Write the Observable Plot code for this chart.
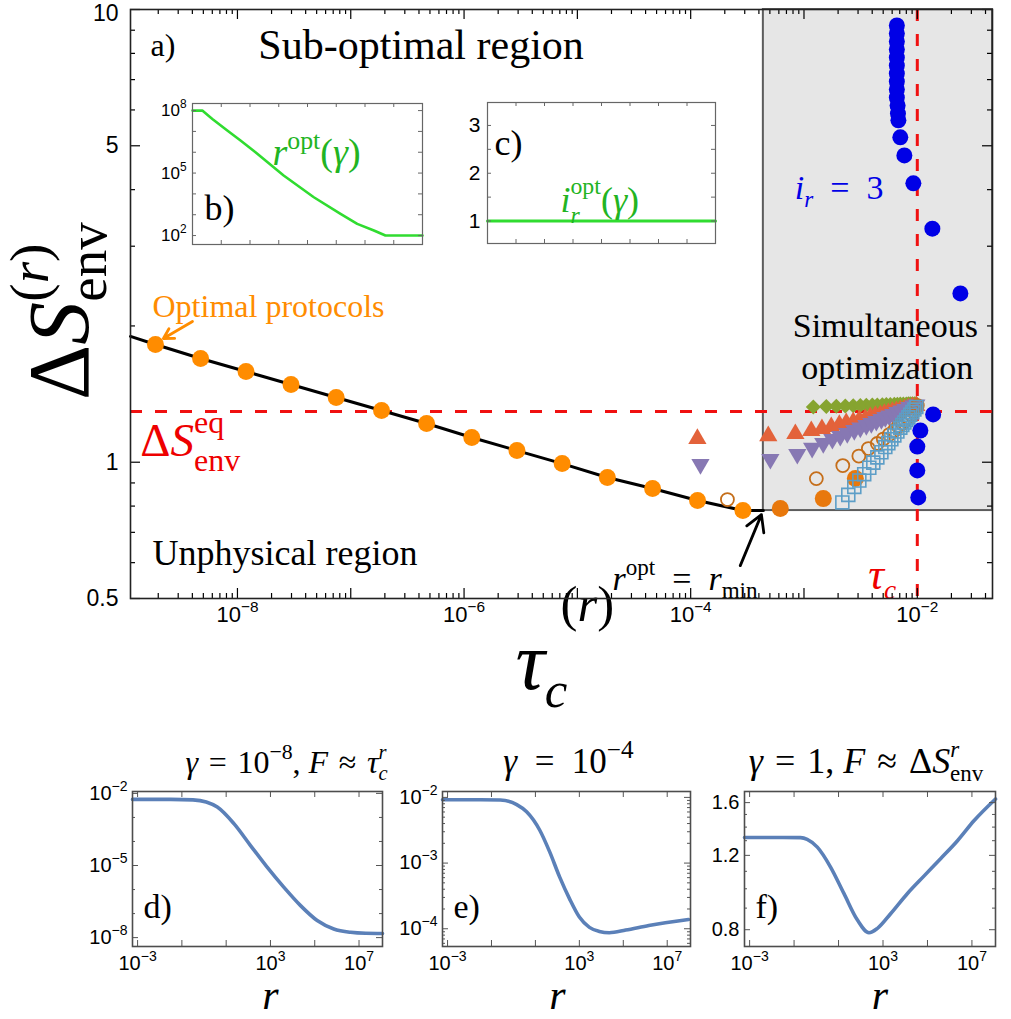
<!DOCTYPE html>
<html><head><meta charset="utf-8">
<script src="https://cdn.jsdelivr.net/npm/d3@7"></script>
<script src="https://cdn.jsdelivr.net/npm/@observablehq/plot@0.6"></script>
<style>
html,body{margin:0;padding:0;background:#fff;}
#root{position:relative;width:1011px;height:1019px;overflow:hidden;background:#fff;}
#root svg{position:absolute;overflow:visible;}
</style></head><body><div id="root"></div>
<script>
// ================= DATA =================
// main panel a) : tick labels
const xTickLabels = [1e-8, 1e-6, 1e-4, 1e-2];
const yTickLabels = [0.5, 1, 5, 10];
const xDomain = [1.138e-9, 0.0461];
const yDomain = [0.5, 10];
// optimal protocols (orange dots) and the black curve
const optTau = [1.89e-9, 4.73e-9, 1.19e-8, 2.97e-8, 7.44e-8, 1.87e-7, 4.67e-7, 1.17e-6, 2.93e-6, 7.34e-6, 1.84e-5, 4.61e-5, 1.15e-4, 2.89e-4];
const optDS  = [1.820, 1.695, 1.586, 1.485, 1.390, 1.301, 1.218, 1.134, 1.061, 0.993, 0.925, 0.875, 0.823, 0.782];
const lineTau = [1.138e-9, 1.89e-9, 4.73e-9, 1.19e-8, 2.97e-8, 7.44e-8, 1.87e-7, 4.67e-7, 1.17e-6, 2.93e-6, 7.34e-6, 1.84e-5, 4.61e-5, 1.15e-4, 2.89e-4, 4.38e-4];
const lineDS  = [1.896, 1.820, 1.695, 1.586, 1.485, 1.390, 1.301, 1.218, 1.134, 1.061, 0.993, 0.925, 0.875, 0.823, 0.782, 0.782];
// simultaneous optimization region, reference lines
const regionTau = [4.38e-4, 0.0461];
const regionDS = [0.782, 10];
const dsEq = 1.294;
const tauC = 0.01;
// other series
const grayOptTau = [6.18e-4, 1.48e-3, 2.84e-3];
const grayOptDS  = [0.790, 0.831, 0.920];
const circTau = [2.11e-4, 1.285e-3, 2.20e-3, 3.05e-3, 3.70e-3, 4.44e-3, 5.01e-3, 5.66e-3, 6.27e-3, 6.81e-3, 7.38e-3, 7.83e-3, 8.34e-3, 8.85e-3, 9.23e-3, 9.62e-3, 1.0e-2];
const circDS  = [0.827, 0.920, 0.983, 1.032, 1.072, 1.100, 1.125, 1.151, 1.175, 1.199, 1.218, 1.236, 1.255, 1.275, 1.294, 1.314, 1.334];
const triUpTau = [1.146e-4, 4.84e-4, 8.39e-4, 1.16e-3, 1.44e-3, 1.74e-3, 2.05e-3, 2.36e-3, 2.72e-3, 3.08e-3, 3.48e-3, 3.85e-3, 4.27e-3, 4.72e-3, 5.12e-3, 5.55e-3, 6.03e-3, 6.53e-3, 7.08e-3, 7.69e-3, 8.34e-3, 9.04e-3, 9.80e-3];
const triUpDS  = [1.134, 1.151, 1.163, 1.181, 1.193, 1.205, 1.218, 1.230, 1.236, 1.249, 1.255, 1.268, 1.275, 1.281, 1.288, 1.294, 1.301, 1.307, 1.314, 1.320, 1.327, 1.334, 1.341];
const triDnTau = [1.22e-4, 5.05e-4, 8.73e-4, 1.18e-3, 1.48e-3, 1.78e-3, 2.09e-3, 2.41e-3, 2.78e-3, 3.14e-3, 3.55e-3, 3.93e-3, 4.35e-3, 4.82e-3, 5.22e-3, 5.66e-3, 6.14e-3, 6.67e-3, 7.23e-3, 7.83e-3, 8.50e-3, 9.23e-3, 9.80e-3];
const triDnDS  = [0.983, 1.009, 1.035, 1.068, 1.094, 1.117, 1.134, 1.151, 1.169, 1.183, 1.199, 1.211, 1.224, 1.236, 1.249, 1.258, 1.268, 1.281, 1.290, 1.301, 1.314, 1.323, 1.331];
const diaTau = [1.209e-3, 1.574e-3, 1.928e-3, 2.317e-3, 2.72e-3, 3.14e-3, 3.548e-3, 4.01e-3, 4.44e-3, 4.91e-3, 5.33e-3, 5.78e-3, 6.27e-3, 6.67e-3, 7.08e-3, 7.53e-3, 8.00e-3, 8.34e-3, 8.67e-3, 9.04e-3, 9.42e-3, 9.80e-3];
const diaDS  = [1.324, 1.327, 1.329, 1.331, 1.333, 1.334, 1.336, 1.337, 1.338, 1.339, 1.341, 1.341, 1.343, 1.343, 1.344, 1.345, 1.345, 1.346, 1.346, 1.346, 1.347, 1.348];
const sqTau = [2.18e-3, 2.46e-3, 2.78e-3, 3.08e-3, 3.40e-3, 3.77e-3, 4.09e-3, 4.44e-3, 4.82e-3, 5.22e-3, 5.55e-3, 5.90e-3, 6.27e-3, 6.67e-3, 7.08e-3, 7.38e-3, 7.69e-3, 8.00e-3, 8.34e-3, 8.67e-3, 9.04e-3, 9.42e-3, 9.80e-3];
const sqDS  = [0.815, 0.847, 0.882, 0.911, 0.941, 0.972, 0.998, 1.025, 1.052, 1.080, 1.102, 1.124, 1.146, 1.169, 1.192, 1.208, 1.224, 1.240, 1.256, 1.273, 1.290, 1.307, 1.324];
const blueTau = [6.60e-3, 6.60e-3, 6.60e-3, 6.60e-3, 6.60e-3, 6.60e-3, 6.60e-3, 6.60e-3, 6.60e-3, 6.60e-3, 6.70e-3, 6.75e-3, 6.81e-3, 7.08e-3, 7.69e-3, 9.23e-3, 1.358e-2, 2.40e-2, 1.38e-2, 1.064e-2, 1.0e-2, 1.0e-2, 1.02e-2];
const blueDS  = [9.22, 8.85, 8.50, 8.16, 7.83, 7.52, 7.22, 6.93, 6.66, 6.39, 6.14, 5.89, 5.69, 5.22, 4.76, 4.13, 3.28, 2.36, 1.275, 1.175, 1.083, 0.959, 0.836];
// inset b) r_opt(gamma), inset c) i_r_opt(gamma)
const gammaB = [1e-8, 2.19e-8, 4.9e-8, 1.62e-7, 4.68e-7, 1.55e-6, 1.48e-5, 1.66e-4, 1.41e-3, 5.37e-3, 2.04e-2, 5.13e-2, 1];
const rOptB  = [1e8, 1e8, 3.98e7, 1.10e7, 3.63e6, 1e6, 7.59e4, 6.92e3, 1.10e3, 3.63e2, 1.74e2, 1e2, 1e2];
const bTickLabels = [1e2, 1e5, 1e8];
const gammaC = [1e-8, 1];
const iOptC  = [1, 1];
const cTickLabels = [1, 2, 3];
// bottom panels d), e), f)
const bottomXLabels = [1e-3, 1e3, 1e7];
const dR = [5.89e-4, 0.0316, 0.316, 1.26, 3.98, 22.4, 126, 708, 3.98e3, 2.29e4, 1.29e5, 7.24e5, 4.17e6, 2.0e7, 1.15e8];
const dF = [5.62e-3, 5.62e-3, 5.37e-3, 4.37e-3, 2.69e-3, 5.50e-4, 6.76e-5, 8.51e-6, 1.26e-6, 2.14e-7, 5.13e-8, 2.29e-8, 1.66e-8, 1.51e-8, 1.48e-8];
const dYLabels = [1e-2, 1e-5, 1e-8];
const eR = [5.89e-4, 0.0316, 0.251, 1.41, 3.98, 15.8, 44.7, 126, 355, 1e3, 2.88e3, 8.13e3, 2.29e4, 1.29e5, 1.45e6, 9.33e7];
const eF = [9.23e-3, 9.23e-3, 9.12e-3, 7.76e-3, 6.03e-3, 3.16e-3, 1.48e-3, 6.17e-4, 2.88e-4, 1.51e-4, 1.05e-4, 9.12e-5, 8.71e-5, 9.55e-5, 1.12e-4, 1.38e-4];
const eYLabels = [1e-2, 1e-3, 1e-4];
const fR = [5.89e-4, 0.0316, 0.195, 0.389, 1.11, 4.37, 17.4, 70.8, 234, 562, 2.24e3, 1.26e4, 7.08e4, 3.98e5, 2.24e6, 1.26e7, 1.15e8];
const fV = [1.323, 1.323, 1.322, 1.31, 1.255, 1.126, 0.975, 0.843, 0.787, 0.806, 0.874, 0.975, 1.073, 1.18, 1.30, 1.451, 1.632];
const fYLabels = [0.8, 1.2, 1.6];

// ================= STYLE =================
const SANS = "'Liberation Sans', Arial, sans-serif";
const SERIF = "'Liberation Serif', 'Times New Roman', serif";
const C = {orange: "#ff8c00", orange2: "#e8780c", circ: "#c56e1a", triUp: "#e3623a", triDn: "#8778b3",
  dia: "#86a430", sq: "#5d9ec7", blue: "#0000e6", red: "#f01010", green: "#30dc30", greenText: "#22b422", curve: "#5b80b8"};

const svgNS = "http://www.w3.org/2000/svg";
const root = document.getElementById("root");
const zip = (xs, ys) => xs.map((x, i) => ({x, y: ys[i]}));
function place(svg, left, top) { svg.style.left = left + "px"; svg.style.top = top + "px"; root.appendChild(svg); }

// custom marker shapes
const rad = s => Math.sqrt(s / Math.PI);
const symTriUp = {draw(c, s) { const a = rad(s) * 1.25; c.moveTo(0, -a); c.lineTo(a, a * 0.72); c.lineTo(-a, a * 0.72); c.closePath(); }};
const symTriDn = {draw(c, s) { const a = rad(s) * 1.25; c.moveTo(0, a); c.lineTo(a, -a * 0.72); c.lineTo(-a, -a * 0.72); c.closePath(); }};
const symDia = {draw(c, s) { const a = rad(s); c.moveTo(0, -a); c.lineTo(a, 0); c.lineTo(0, a); c.lineTo(-a, 0); c.closePath(); }};
const symSq = {draw(c, s) { const a = rad(s) * 0.9; c.rect(-a, -a, 2 * a, 2 * a); }};

function logTicks(lo, hi) {
  const major = [], minor = [];
  for (let e = Math.floor(Math.log10(lo)) - 1; e <= Math.ceil(Math.log10(hi)); e++)
    for (let m = 1; m < 10; m++) { const v = m * Math.pow(10, e); if (v < lo * 0.9999 || v > hi * 1.0001) continue; (m === 1 ? major : minor).push(v); }
  return {major, minor};
}
// inward frame ticks on all four sides
function frameTicks(xs, ys, len, fw, fh, opts = {}) {
  const o = {stroke: opts.stroke ?? "#000", strokeWidth: opts.sw ?? 1.2};
  const out = [];
  if (xs.length) { out.push(Plot.tickX(xs, {x: d => d, insetTop: fh - len, ...o})); if (opts.top !== false) out.push(Plot.tickX(xs, {x: d => d, insetBottom: fh - len, ...o})); }
  if (ys.length) { out.push(Plot.tickY(ys, {y: d => d, insetRight: fw - len, ...o})); if (opts.right !== false) out.push(Plot.tickY(ys, {y: d => d, insetLeft: fw - len, ...o})); }
  return out;
}
const fmtPow = d => "10^" + Math.round(Math.log10(d));

// ================= RICH TEXT (sub/superscripts) =================
const N = t => [t, {}], I = t => [t, {i: 1}];
const SUP = (t, o = {}) => [t, {k: "sup", ...o}], SUB = (t, o = {}) => [t, {k: "sub", ...o}];
const EQ = "\u2002=\u2002", APPROX = "\u2002\u2248\u2002", EQ3 = "\u2004=\u2004", AP3 = "\u2004\u2248\u2004";
const RICH = {
  "ΔS_env^(r)": [N("Δ"), I("S"), SUP("(", {up: 0.46, s: 0.64}), SUP("r", {i: 1, up: 0.46, s: 0.64}), SUP(")", {up: 0.46, s: 0.64}), SUB("env", {back: 3, s: 0.64, down: 0.22})],
  "τ_c^(r)": [I("τ"), SUB("c", {i: 1, s: 0.62, down: 0.22}), SUP("(", {back: 1, backK: 0.3, up: 0.82, s: 0.62}), SUP("r", {i: 1, up: 0.82, s: 0.62}), SUP(")", {up: 0.82, s: 0.62})],
  "ΔS_env^eq": [N("Δ"), I("S"), SUP("eq", {s: 0.68, up: 0.48}), SUB("env", {back: 1, s: 0.68, down: 0.33})],
  "r^opt = r_min": [I("r"), SUP("opt", {s: 0.68}), N(EQ), I("r"), SUB("min", {s: 0.68})],
  "τ_c": [I("τ"), SUB("c", {i: 1, s: 0.62})],
  "i_r = 3": [I("i"), SUB("r", {i: 1, s: 0.68}), N(EQ + "3")],
  "r^opt(γ)": [I("r"), SUP("opt", {s: 0.68}), N("("), I("γ"), N(")")],
  "i_r^opt(γ)": [I("i"), SUB("r", {i: 1, s: 0.66, down: 0.3}), SUP("opt", {back: 1, s: 0.66, up: 0.5}), N("("), I("γ"), N(")")],
  "γ = 10^-8, F ≈ τ_c^r": [I("γ"), N(EQ3 + "10"), SUP("−8", {s: 0.68}), N(", "), I("F"), N(AP3), I("τ"), SUB("c", {i: 1, s: 0.64}), SUP("r", {i: 1, back: 1, s: 0.64})],
  "γ = 10^-4": [I("γ"), N(EQ + "10"), SUP("−4", {s: 0.72})],
  "γ = 1, F ≈ ΔS_env^r": [I("γ"), N(EQ3 + "1, "), I("F"), N(AP3 + "Δ"), I("S"), SUP("r", {i: 1, s: 0.64}), SUB("env", {back: 1, s: 0.64})]
};
function richify(container) {
  container.querySelectorAll("text").forEach(t => {
    if (t.querySelector("tspan")) return;
    const key = t.textContent;
    let segs = RICH[key];
    if (!segs) { const m = /^10\^(-?\d+)$/.exec(key); if (m) segs = [N("10"), SUP(m[1].replace("-", "\u2212"), {s: 0.7, up: 0.45})]; }
    if (!segs) return;
    const fs = parseFloat(getComputedStyle(t).fontSize) || 16;
    t.textContent = "";
    let shift = 0; const spans = [];
    for (const [str, o] of segs) {
      const sp = document.createElementNS(svgNS, "tspan");
      sp.textContent = str;
      const sc = o.s ?? (o.k ? 0.62 : 1);
      if (sc !== 1) sp.setAttribute("font-size", (fs * sc).toFixed(1));
      sp.setAttribute("font-style", o.i ? "italic" : "normal");
      const target = o.k === "sup" ? -fs * (o.up ?? 0.42) : o.k === "sub" ? fs * (o.down ?? 0.24) : 0;
      if (Math.abs(target - shift) > 0.01) { sp.setAttribute("dy", (target - shift).toFixed(1)); shift = target; }
      t.appendChild(sp);
      if (o.back) { let w = 0; for (let j = spans.length - o.back; j < spans.length; j++) w += spans[j].getComputedTextLength(); sp.setAttribute("dx", (-w * (o.backK ?? 1)).toFixed(1)); }
      spans.push(sp);
    }
  });
}

// ================= MAIN PANEL a) =================
const MW = 1011, MH = 700, mL = 130, mR = 19, mT = 9, mB = 102;
const mfw = MW - mL - mR, mfh = MH - mT - mB;
const mx = logTicks(xDomain[0], xDomain[1]);
const yMajor = [0.5, 1, 5, 10], yMinor = [0.6, 0.7, 0.8, 0.9, 2, 3, 4, 6, 7, 8, 9];
const region = [{x1: regionTau[0], x2: regionTau[1], y1: regionDS[0], y2: regionDS[1]}];
const notes = [
  {t: "a)", tau: 1.71e-9, ds: 8.33, a: "start", fs: 32, c: "#000"},
  {t: "Sub-optimal region", tau: 1.53e-8, ds: 8.33, a: "start", fs: 42, c: "#000"},
  {t: "Optimal protocols", tau: 1.78e-9, ds: 2.21, a: "start", fs: 32, c: C.orange},
  {t: "ΔS_env^eq", tau: 1.39e-9, ds: 1.117, a: "start", fs: 47, c: "#ee0000"},
  {t: "Unphysical region", tau: 1.78e-9, ds: 0.629, a: "start", fs: 36, c: "#000"},
  {t: "r^opt = r_min", tau: 2.04e-5, ds: 0.553, a: "start", fs: 34, c: "#000"},
  {t: "τ_c", tau: 3.70e-3, ds: 0.565, a: "start", fs: 44, c: "#ee0000"},
  {t: "i_r = 3", tau: 8.3e-4, ds: 4.04, a: "start", fs: 34, c: C.blue},
  {t: "Simultaneous", tau: 5.22e-3, ds: 2.00, a: "middle", fs: 34, c: "#000"},
  {t: "optimization", tau: 5.43e-3, ds: 1.61, a: "middle", fs: 34, c: "#000"}
];
const arrows = [
  {x1: 4.01e-9, y1: 2.046, x2: 2.22e-9, y2: 1.876, c: C.orange},
  {x1: 2.74e-4, y1: 0.591, x2: 4.21e-4, y2: 0.766, c: "#000"}
];
const yLabLow = yTickLabels.filter(d => d < 10), yLabTop = yTickLabels.filter(d => d >= 10);
const mainPlot = Plot.plot({
  width: MW, height: MH, marginLeft: mL, marginRight: mR, marginTop: mT, marginBottom: mB,
  style: {fontFamily: SANS, fontSize: "22px", background: "transparent"},
  x: {type: "log", domain: xDomain},
  y: {type: "log", domain: yDomain, axis: null},
  marks: [
    Plot.rect(region, {x1: "x1", x2: "x2", y1: "y1", y2: "y2", fill: "#e6e6e6", stroke: "#5c5c5c", strokeWidth: 2}),
    Plot.ruleY([dsEq], {stroke: C.red, strokeWidth: 3, strokeDasharray: "12,13"}),
    Plot.ruleX([tauC], {stroke: C.red, strokeWidth: 3, strokeDasharray: "12,13"}),
    Plot.line(zip(lineTau, lineDS), {x: "x", y: "y", stroke: "#000", strokeWidth: 3}),
    Plot.dot(zip(optTau, optDS), {x: "x", y: "y", r: 8.5, fill: C.orange}),
    Plot.dot(zip(diaTau, diaDS), {x: "x", y: "y", r: 7.5, symbol: symDia, fill: C.dia}),
    Plot.dot(zip(triUpTau, triUpDS), {x: "x", y: "y", r: 7.3, symbol: symTriUp, fill: C.triUp}),
    Plot.dot(zip(triDnTau, triDnDS), {x: "x", y: "y", r: 7.3, symbol: symTriDn, fill: C.triDn}),
    Plot.dot(zip(circTau, circDS), {x: "x", y: "y", r: 6.5, fill: "none", stroke: C.circ, strokeWidth: 1.8}),
    Plot.dot(zip(grayOptTau, grayOptDS), {x: "x", y: "y", r: 8.5, fill: C.orange2}),
    Plot.dot(zip(blueTau, blueDS), {x: "x", y: "y", r: 8, fill: C.blue}),
    Plot.dot(zip(sqTau, sqDS), {x: "x", y: "y", r: 7.2, symbol: symSq, fill: "none", stroke: C.sq, strokeWidth: 1.6}),
    Plot.arrow(arrows, {x1: "x1", y1: "y1", x2: "x2", y2: "y2", stroke: "c", strokeWidth: 2.8, headLength: 14}),
    ...notes.map(n => Plot.text([n], {x: "tau", y: "ds", text: "t", textAnchor: n.a, fontSize: n.fs, fill: n.c, fontFamily: SERIF})),
    Plot.text(["ΔS_env^(r)"], {frameAnchor: "left", text: d => d, rotate: -90, textAnchor: "start", lineAnchor: "bottom", dx: -43, dy: 96, fontSize: 86, fontFamily: SERIF}),
    Plot.text(["τ_c^(r)"], {frameAnchor: "bottom", text: d => d, textAnchor: "start", lineAnchor: "bottom", dx: -46, dy: 90, fontSize: 82, fontFamily: SERIF}),
    ...frameTicks(mx.major, yMajor, 10, mfw, mfh),
    ...frameTicks(mx.minor, yMinor, 5, mfw, mfh),
    Plot.axisX(xTickLabels, {anchor: "bottom", tickSize: 0, tickPadding: 8, tickFormat: fmtPow, fontSize: 22, label: null}),
    Plot.text(yLabLow, {frameAnchor: "left", y: d => d, text: d => String(d), textAnchor: "end", dx: -12, fontSize: 23}),
    Plot.text(yLabTop, {frameAnchor: "left", y: d => d, text: d => String(d), textAnchor: "end", dx: -12, dy: 4, fontSize: 23}),
    Plot.frame({stroke: "#222", strokeWidth: 1.6})
  ]
});
place(mainPlot, 0, 0);

// ================= INSET b) =================
const insetB = Plot.plot({
  width: 294, height: 155, marginLeft: 60, marginRight: 4, marginTop: 8, marginBottom: 6,
  style: {fontFamily: SANS, fontSize: "17px", background: "transparent"},
  x: {type: "log", domain: [1e-8, 1], axis: null},
  y: {type: "log", domain: [37.2, 2.19e8], axis: null},
  marks: [
    Plot.line(zip(gammaB, rOptB), {x: "x", y: "y", stroke: C.green, strokeWidth: 2.6}),
    ...frameTicks([1e-7, 1e-6, 1e-5, 1e-4, 1e-3, 1e-2, 1e-1], [1e2, 1e3, 1e4, 1e5, 1e6, 1e7, 1e8], 4, 230, 141, {stroke: "#666", sw: 1}),
    Plot.text(bTickLabels, {frameAnchor: "left", y: d => d, text: fmtPow, textAnchor: "end", dx: -6, fontSize: 17}),
    Plot.text(["r^opt(γ)"], {frameAnchor: "top-left", text: d => d, textAnchor: "start", dx: 80, dy: 35, fontSize: 38, fill: C.greenText, fontFamily: SERIF}),
    Plot.text(["b)"], {frameAnchor: "bottom-left", text: d => d, textAnchor: "start", dx: 12, dy: -25, fontSize: 36, fontFamily: SERIF}),
    Plot.frame({stroke: "#666", strokeWidth: 1.2})
  ]
});
place(insetB, 132, 95);

// ================= INSET c) =================
const insetC = Plot.plot({
  width: 272, height: 155, marginLeft: 40, marginRight: 4, marginTop: 8, marginBottom: 6,
  style: {fontFamily: SANS, fontSize: "21px", background: "transparent"},
  x: {type: "log", domain: [1e-8, 1], axis: null},
  y: {domain: [0.53, 3.48], axis: null},
  marks: [
    Plot.line(zip(gammaC, iOptC), {x: "x", y: "y", stroke: C.green, strokeWidth: 3}),
    ...frameTicks([1e-7, 1e-6, 1e-5, 1e-4, 1e-3, 1e-2, 1e-1], [1, 1.5, 2, 2.5, 3], 4, 228, 141, {stroke: "#666", sw: 1}),
    Plot.text(cTickLabels, {frameAnchor: "left", y: d => d, text: d => String(d), textAnchor: "end", dx: -7, fontSize: 21}),
    Plot.text(["c)"], {frameAnchor: "top-left", text: d => d, textAnchor: "start", dx: 7, dy: 27, fontSize: 36, fontFamily: SERIF}),
    Plot.text(["i_r^opt(γ)"], {frameAnchor: "top-left", text: d => d, textAnchor: "start", dx: 73, dy: 84, fontSize: 36, fill: C.greenText, fontFamily: SERIF}),
    Plot.frame({stroke: "#666", strokeWidth: 1.2})
  ]
});
place(insetC, 447, 94);

// ================= BOTTOM PANELS =================
const bxDomain = [5.89e-4, 1.148e8];
const bxMajor = [1e-3, 1e-1, 1e1, 1e3, 1e5, 1e7];
function bottomPanel({left, marginLeft, width, rs, vs, yDomain, yLabels, yFmt, yMajor, yMinor, title, titleSize, titleDx, rDx, tag}) {
  const fw = width - marginLeft - 5, fh = 299 - 71 - 73;
  const p = Plot.plot({
    width, height: 299, marginLeft, marginRight: 5, marginTop: 71, marginBottom: 73,
    style: {fontFamily: SANS, fontSize: "20px", background: "transparent"},
    x: {type: "log", domain: bxDomain, axis: null},
    y: {type: "log", domain: yDomain, axis: null},
    marks: [
      Plot.line(zip(rs, vs), {x: "x", y: "y", stroke: C.curve, strokeWidth: 3.6, curve: "monotone-x"}),
      ...frameTicks(bxMajor, yMajor, 6, fw, fh, {stroke: "#555", sw: 1}),
      ...frameTicks([], yMinor, 3, fw, fh, {stroke: "#555", sw: 1}),
      Plot.text(bottomXLabels, {frameAnchor: "bottom", x: d => d, text: fmtPow, lineAnchor: "top", dy: 9, fontSize: 20}),
      Plot.text(yLabels, {frameAnchor: "left", y: d => d, text: yFmt, textAnchor: "end", dx: -5, fontSize: 20}),
      Plot.text([title], {frameAnchor: "top", text: d => d, lineAnchor: "bottom", dx: titleDx, dy: -19, fontSize: titleSize, fontFamily: SERIF}),
      Plot.text(["r"], {frameAnchor: "bottom", text: d => d, lineAnchor: "bottom", dx: rDx, dy: 62, fontSize: 42, fontStyle: "italic", fontFamily: SERIF}),
      Plot.text([tag], {frameAnchor: "bottom-left", text: d => d, textAnchor: "start", dx: 11, dy: -29, fontSize: 34, fontFamily: SERIF}),
      Plot.frame({stroke: "#4d4d4d", strokeWidth: 1.6})
    ]
  });
  place(p, left, 720);
}
bottomPanel({left: 72, marginLeft: 60, width: 315, rs: dR, vs: dF, yDomain: [4.27e-9, 1.20e-2], yLabels: dYLabels, yFmt: fmtPow,
  yMajor: [1e-2, 1e-5, 1e-8], yMinor: [1e-3, 1e-4, 1e-6, 1e-7], title: "γ = 10^-8, F ≈ τ_c^r", titleSize: 32, titleDx: 29, rDx: 13, tag: "d)"});
bottomPanel({left: 382, marginLeft: 60, width: 313, rs: eR, vs: eF, yDomain: [5.37e-5, 1.23e-2], yLabels: eYLabels, yFmt: fmtPow,
  yMajor: [1e-2, 1e-3, 1e-4], yMinor: [6e-5, 7e-5, 8e-5, 9e-5, 2e-4, 3e-4, 4e-4, 5e-4, 6e-4, 7e-4, 8e-4, 9e-4, 2e-3, 3e-3, 4e-3, 5e-3, 6e-3, 7e-3, 8e-3, 9e-3], title: "γ = 10^-4", titleSize: 35, titleDx: 2, rDx: -9, tag: "e)"});
bottomPanel({left: 694, marginLeft: 50, width: 306, rs: fR, vs: fV, yDomain: [0.73, 1.70], yLabels: fYLabels, yFmt: d => d.toFixed(1),
  yMajor: [0.8, 1.2, 1.6], yMinor: [0.9, 1.0, 1.1, 1.3, 1.4, 1.5], title: "γ = 1, F ≈ ΔS_env^r", titleSize: 36, titleDx: -4, rDx: 10, tag: "f)"});

richify(root);
</script></body></html>
